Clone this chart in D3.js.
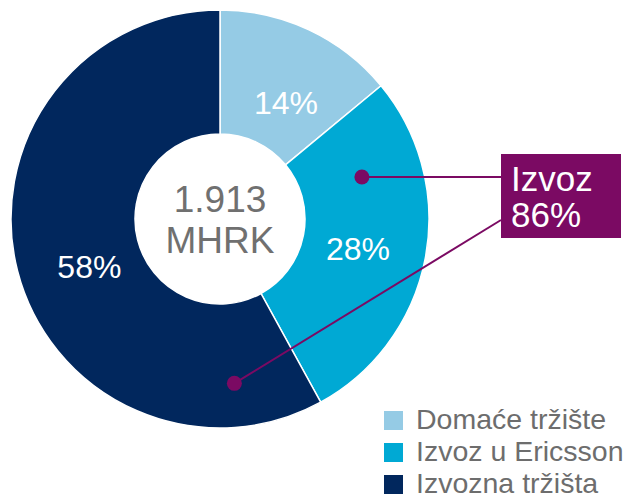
<!DOCTYPE html>
<html>
<head>
	<meta charset='utf-8'>
	<title>Izvoz</title>
	<script src='https://cdn.jsdelivr.net/npm/d3@7'></script>
	<style>
		body { margin: 0; background: #fff; }
		text { font-family: 'Liberation Sans', Arial, sans-serif; }
	</style>
</head>
<body>
	<svg width='624' height='499'></svg>
	<script>
		const categories = ['Domaće tržište', 'Izvoz u Ericsson', 'Izvozna tržišta']
		const values = [14, 28, 58]
		const colors = ['#95cbe5', '#00a9d4', '#01275d']
		const totalLines = ['1.913', 'MHRK']
		const exportLines = ['Izvoz', '86%']

		const svg = d3.select('svg')
		const cx = 220, cy = 219
		const outerR = 209, innerR = 85
		// kut (stupnjevi od vrha) i udaljenost za natpise postotaka
		const labelPos = [[29.5, 134], [102, 141], [250, 139]]
		const purple = '#7b0a63'

		const pie = d3.pie().sort(null).value(d => d)
		const arcs = pie(values)
		const arc = d3.arc().innerRadius(innerR).outerRadius(outerR)

		const g = svg.append('g').attr('transform', `translate(${cx},${cy})`)

		g.selectAll('path')
			.data(arcs)
			.join('path')
			.attr('d', arc)
			.attr('fill', (d, i) => colors[i])
			.attr('stroke', '#fff')
			.attr('stroke-width', 1.5)

		const polar = (deg, r) => {
			const a = deg * Math.PI / 180
			return [r * Math.sin(a), -r * Math.cos(a)]
		}

		g.selectAll('.pct')
			.data(arcs)
			.join('text')
			.attr('class', 'pct')
			.attr('transform', (d, i) => {
				const [x, y] = polar(labelPos[i][0], labelPos[i][1])
				return `translate(${x},${y})`
			})
			.attr('text-anchor', 'middle')
			.attr('dy', '0.35em')
			.attr('fill', '#fff')
			.attr('font-size', 32)
			.text(d => d.value + '%')

		// sredina
		g.selectAll('.total')
			.data(totalLines)
			.join('text')
			.attr('class', 'total')
			.attr('text-anchor', 'middle')
			.attr('y', (d, i) => -7 + i * 41)
			.attr('fill', '#707070')
			.attr('font-size', 37)
			.text(d => d)

		// oznaka izvoza
		const box = { x: 501, y: 154, w: 120, h: 84 }
		const dot1 = polar(73.5, 148).map((v, i) => v + (i ? cy : cx))
		const dot2 = polar(175, 165).map((v, i) => v + (i ? cy : cx))

		svg.append('line')
			.attr('x1', dot1[0]).attr('y1', dot1[1])
			.attr('x2', box.x).attr('y2', dot1[1])
			.attr('stroke', purple).attr('stroke-width', 2)
		svg.append('line')
			.attr('x1', dot2[0]).attr('y1', dot2[1])
			.attr('x2', box.x).attr('y2', 220)
			.attr('stroke', purple).attr('stroke-width', 2)
		svg.selectAll('.dot')
			.data([dot1, dot2])
			.join('circle')
			.attr('class', 'dot')
			.attr('cx', d => d[0]).attr('cy', d => d[1])
			.attr('r', 7.5)
			.attr('fill', purple)

		svg.append('rect')
			.attr('x', box.x).attr('y', box.y)
			.attr('width', box.w).attr('height', box.h)
			.attr('fill', purple)
		svg.selectAll('.exp')
			.data(exportLines)
			.join('text')
			.attr('class', 'exp')
			.attr('x', box.x + 10)
			.attr('y', (d, i) => 191 + i * 36)
			.attr('fill', '#fff')
			.attr('font-size', 35)
			.text(d => d)

		// legenda
		const legend = svg.append('g').attr('transform', 'translate(384,411)')
		const item = legend.selectAll('g')
			.data(categories)
			.join('g')
			.attr('transform', (d, i) => `translate(0,${i * 32})`)
		item.append('rect')
			.attr('width', 19).attr('height', 19)
			.attr('fill', (d, i) => colors[i])
		item.append('text')
			.attr('x', 32)
			.attr('y', 18)
			.attr('fill', '#6d6d6d')
			.attr('font-size', 28.5)
			.text(d => d)
	</script>
</body>
</html>
